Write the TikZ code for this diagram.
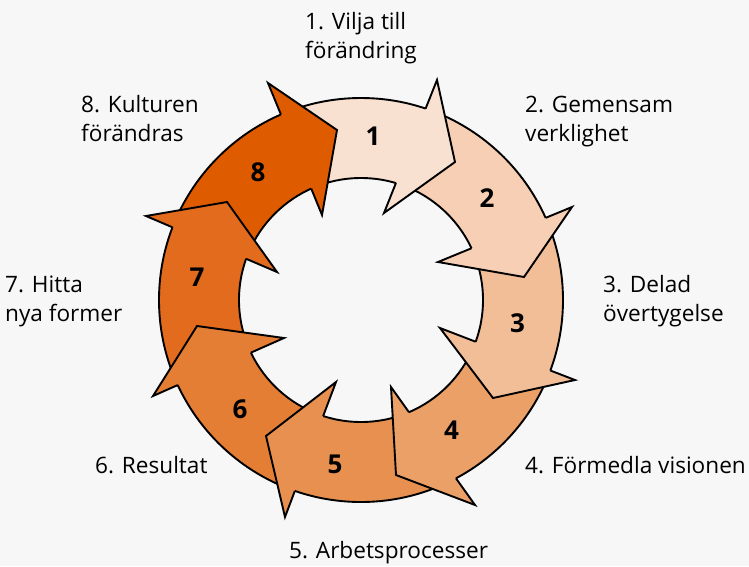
\documentclass[tikz,border=0pt]{standalone}
\usepackage{fontspec}
\setmainfont{Open Sans}
\usetikzlibrary{calc,intersections}
\definecolor{bg}{HTML}{F7F7F7}
\definecolor{c1}{HTML}{F9E1D1}
\definecolor{c2}{HTML}{F6CFB4}
\definecolor{c3}{HTML}{F2BE98}
\definecolor{c4}{HTML}{EBA068}
\definecolor{c5}{HTML}{E8904F}
\definecolor{c6}{HTML}{E57E35}
\definecolor{c7}{HTML}{E26B1D}
\definecolor{c8}{HTML}{DF5B00}
\begin{document}
\begin{tikzpicture}[x=1pt,y=1pt,
  edge/.style={line width=1.9pt, line join=miter, black},
  num/.style={font=\fontsize{26}{26}\selectfont\bfseries, anchor=base, inner sep=0pt},
  lab/.style={font=\fontsize{22.6}{29}\selectfont, anchor=base west, inner sep=0pt}]
\fill[bg] (0,0) rectangle (749,-566);
\useasboundingbox (0,0) rectangle (749,-566);
\coordinate (C) at (361,-300);
% arrow heads: outer barb O, apex A, inner barb I
\coordinate (O1) at (437,-80);  \coordinate (A1) at (455,-162); \coordinate (I1) at (384,-213);
\coordinate (O2) at (572,-207); \coordinate (A2) at (524,-277); \coordinate (I2) at (438,-262);
\coordinate (O3) at (575,-380); \coordinate (A3) at (493,-398); \coordinate (I3) at (440,-328);
\coordinate (O4) at (475,-505); \coordinate (A4) at (396,-475); \coordinate (I4) at (391,-387);
\coordinate (O5) at (285,-517); \coordinate (A5) at (266,-436); \coordinate (I5) at (336,-382);
\coordinate (O6) at (153,-396); \coordinate (A6) at (197,-326); \coordinate (I6) at (284,-338);
\coordinate (O7) at (146,-216); \coordinate (A7) at (227,-202); \coordinate (I7) at (277,-272);
\coordinate (O8) at (268,-83);  \coordinate (A8) at (337,-130); \coordinate (I8) at (322,-215);
% cut lines inside each head
\foreach \k in {1,...,8}{
  \coordinate (P\k) at ($(O\k)!0.25!(A\k)$);
  \coordinate (Q\k) at ($(I\k)!0.25!(A\k)$);
  \coordinate (V\k) at ($(P\k)!-2!(Q\k)$);
}
% bodies
\foreach \k/\p/\col in {1/8/c1,2/1/c2,3/2/c3,4/3/c4,5/4/c5,6/5/c6,7/6/c7,8/7/c8}{
  \begin{scope}
    \clip (C) -- (Q\p) -- (V\p) -- (V\k) -- (Q\k) -- cycle;
    \fill[\col, even odd rule] (C) circle (202pt) (C) circle (122pt);
  \end{scope}
}
% heads
\foreach \k/\col in {1/c1,2/c2,3/c3,4/c4,5/c5,6/c6,7/c7,8/c8}{
  \fill[\col] (O\k) -- (A\k) -- (I\k) -- cycle;
}
% ring outlines outside heads (nonzero rule: rectangle counter-clockwise, triangles clockwise)
\begin{scope}
  \clip (-10,10) -- (-10,-580) -- (760,-580) -- (760,10) -- cycle
    (O1)--(A1)--(I1)--cycle (O2)--(A2)--(I2)--cycle
    (O3)--(A3)--(I3)--cycle (O4)--(A4)--(I4)--cycle
    (O5)--(A5)--(I5)--cycle (O6)--(A6)--(I6)--cycle
    (O7)--(A7)--(I7)--cycle (O8)--(A8)--(I8)--cycle;
  \draw[edge] (C) circle (202pt) (C) circle (122pt);
\end{scope}
% head outlines
\path[name path=ro] (C) circle (202pt);
\path[name path=ri] (C) circle (122pt);
\foreach \k in {1,...,8}{
  \path[name path=bl] (O\k) -- (I\k);
  \path[name intersections={of=ro and bl, by={Bo\k}}];
  \path[name intersections={of=ri and bl, by={Bi\k}}];
  \draw[edge] (Bo\k) -- (O\k) -- (A\k) -- (I\k) -- (Bi\k);
}
% numbers
\node[num] (n1) at (373,-145) {1};
\node[num] (n2) at (487,-207) {2};
\node[num] (n3) at (517.5,-332) {3};
\node[num] (n4) at (451.5,-439) {4};
\node[num] (n5) at (335,-473) {5};
\node[num] (n6) at (240,-418) {6};
\node[num] (n7) at (197,-286) {7};
\node[num] (n8) at (258,-181) {8};
% labels
\node[lab] (l1) at (305,-29.3) {\begin{tabular}[t]{@{}l@{}}1. Vilja till\\förändring\end{tabular}};
\node[lab] (l2) at (525,-112.3) {\begin{tabular}[t]{@{}l@{}}2. Gemensam\\verklighet\end{tabular}};
\node[lab] (l3) at (603,-292) {\begin{tabular}[t]{@{}l@{}}3. Delad\\övertygelse\end{tabular}};
\node[lab] (l4) at (525,-473) {4. Förmedla visionen};
\node[lab] (l5) at (289,-558) {5. Arbetsprocesser};
\node[lab] (l6) at (95,-473) {6. Resultat};
\node[lab] (l7) at (5,-292) {\begin{tabular}[t]{@{}l@{}}7. Hitta\\nya former\end{tabular}};
\node[lab] (l8) at (81,-112.3) {\begin{tabular}[t]{@{}l@{}}8. Kulturen\\förändras\end{tabular}};
\end{tikzpicture}
\end{document}
